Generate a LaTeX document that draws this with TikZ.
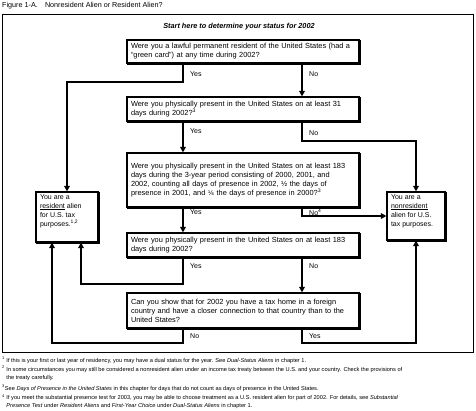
\documentclass[tikz,border=0pt]{standalone}
\usepackage{fontspec}
\setmainfont{Liberation Sans}
\newfontfamily\dvfont{DejaVu Sans}
\usetikzlibrary{arrows.meta}
\tikzset{
  qbox/.style={draw, line width=1.1pt, rectangle, minimum width=232pt, inner xsep=4pt, inner ysep=2pt,
    text width=224pt, align=left, font=\fontsize{7.4}{9}\selectfont},
  abox/.style={draw, line width=1.1pt, rectangle, inner sep=0pt, font=\fontsize{7}{8.8}\selectfont},
  conn/.style={line width=1.8pt, -{Triangle[length=5.5pt,width=5.5pt]}},
  lbl/.style={anchor=west, inner sep=0pt, font=\fontsize{7}{8}\selectfont},
  fn/.style={anchor=north west, inner sep=0pt, align=left, font=\fontsize{5.65}{7.6}\selectfont},
}
\newcommand\shadowbox[1]{\draw[line width=1.1pt] ([xshift=0.8pt,yshift=-0.8pt]#1.south west) -- ([xshift=0.8pt,yshift=-0.8pt]#1.south east) -- ([xshift=0.8pt,yshift=-0.8pt]#1.north east);}
\newcommand\myul[1]{\setbox0\hbox{#1}\rlap{\raisebox{-1.3pt}{\rule{\wd0}{0.55pt}}}\box0\relax}
\begin{document}
\begin{tikzpicture}[x=1pt,y=-1pt]
\useasboundingbox (0,0) rectangle (476,410);
\fill[white] (0,0) rectangle (476,410);
% title
\node[anchor=west, inner sep=0pt, font=\fontsize{7.2}{8}\selectfont] (title) at (2,6) {Figure 1-A.\quad Nonresident Alien or Resident Alien?};
\draw[line width=0.8pt] (2,14) rectangle (473,352);
\node[inner sep=0pt, font=\fontsize{7.3}{8}\selectfont\bfseries\itshape] (start) at (239,27) {Start here to determine your status for 2002};
% questions
\node[qbox, minimum height=23pt] (b1) at (243,51.5) {Were you a lawful permanent resident of the United States (had a\\ ``green card'') at any time during 2002?};
\node[qbox, minimum height=24pt] (b2) at (243,109) {Were you physically present in the United States on at least 31\\ days during 2002?\textsuperscript{3}};
\node[qbox, minimum height=54pt] (b3) at (243,180) {Were you physically present in the United States on at least 183\\ days during the 3-year period consisting of 2000, 2001, and\\ 2002, counting all days of presence in 2002, ½ the days of\\ presence in 2001, and {\dvfont\fontsize{6.4}{8}\selectfont ⅙} the days of presence in 2000?\textsuperscript{3}};
\node[qbox, minimum height=24pt] (b4) at (243,245) {Were you physically present in the United States on at least 183\\ days during 2002?};
\node[qbox, minimum height=35pt] (b5) at (243,310.5) {Can you show that for 2002 you have a tax home in a foreign\\ country and have a closer connection to that country than to the\\ United States?};
% answers
\node[abox] (res) at (67,217) {\parbox[c][50pt][t]{62pt}{\leftskip=4pt\rightskip=0pt plus 1fil\vspace{3pt}You are a\\ \myul{resident} alien\\ for U.S. tax\\ purposes.\textsuperscript{1,2}}};
\node[abox] (nres) at (416,216) {\parbox[c][48pt][t]{58pt}{\leftskip=4pt\rightskip=0pt plus 1fil\vspace{3pt}You are a\\ \myul{nonresident}\\ alien for U.S.\\ tax purposes.}};
\foreach \n in {b1,b2,b3,b4,b5,res,nres}{\shadowbox{\n}}
% guide coordinates
\coordinate (xl) at (183,0);
\coordinate (xr) at (302,0);
\coordinate (c1) at (67,82);
\coordinate (c2) at (416,141);
\coordinate (c4) at (81,284);
\coordinate (c5) at (52,343);
\coordinate (c6) at (416,343);
% connectors
\draw[conn] (b1.south -| xl) |- (c1) -- (res.north);
\draw[conn] (b1.south -| xr) -- (b2.north -| xr);
\draw[conn] (b2.south -| xl) -- (b3.north -| xl);
\draw[conn] (b2.south -| xr) |- (c2) -- (nres.north);
\draw[conn] (b3.south -| xl) -- (b4.north -| xl);
\draw[conn] (b3.south -| xr) |- (nres.west);
\draw[conn] (b4.south -| xl) |- (c4) -- (res.south -| c4);
\draw[conn] (b4.south -| xr) -- (b5.north -| xr);
\draw[conn] (b5.south -| xl) |- (c5) -- (res.south -| c5);
\draw[conn] (b5.south -| xr) |- (c6) -- (nres.south);
% labels
\node[lbl] (y1) at (190,74) {Yes};
\node[lbl] (n1) at (309,74) {No};
\node[lbl] (y2) at (190,131) {Yes};
\node[lbl] (n2) at (309,133) {No};
\node[lbl] (y3) at (190,212) {Yes};
\node[lbl] (n3) at (309,212) {No\textsuperscript{4}};
\node[lbl] (y4) at (190,266) {Yes};
\node[lbl] (n4) at (309,266) {No};
\node[lbl] (n5) at (190,336) {No};
\node[lbl] (y5) at (309,336) {Yes};
% footnotes
\node[fn] (f1) at (2,357) {\textsuperscript{1} If this is your first or last year of residency, you may have a dual status for the year. See \textit{Dual-Status Aliens} in chapter 1.};
\node[fn] (f2) at (2,366) {\textsuperscript{2} In some circumstances you may still be considered a nonresident alien under an income tax treaty between the U.S. and your country. Check the provisions of\\ \hphantom{\textsuperscript{2} }the treaty carefully.};
\node[fn] (f3) at (2,385) {\textsuperscript{3}See \textit{Days of Presence in the United States} in this chapter for days that do not count as days of presence in the United States.};
\node[fn] (f4) at (2,394.5) {\textsuperscript{4} If you meet the substantial presence test for 2003, you may be able to choose treatment as a U.S. resident alien for part of 2002. For details, see \textit{Substantial}\\ \hphantom{\textsuperscript{4} }\textit{Presence Test} under \textit{Resident Aliens} and \textit{First-Year Choice} under \textit{Dual-Status Aliens} in chapter 1.};
\end{tikzpicture}
\end{document}
